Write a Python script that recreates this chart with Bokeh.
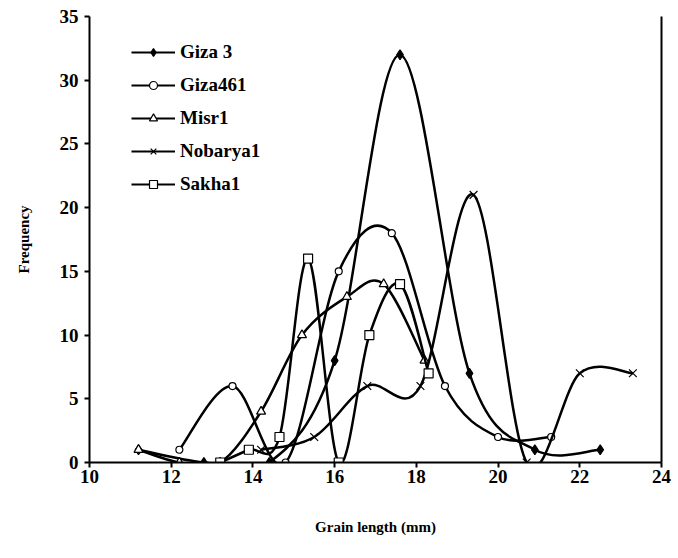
from bokeh.plotting import figure
from bokeh.models import Range1d, FixedTicker, Legend, LegendItem, LinearAxis, ColumnDataSource
from bokeh.embed import file_html
from bokeh.resources import INLINE

# ---- data ----
giza3_x = [11.2, 12.8, 14.4, 16.0, 17.6, 19.3, 20.9, 22.5]
giza3_y = [1, 0, 0, 8, 32, 7, 1, 1]
giza461_x = [12.2, 13.5, 14.8, 16.1, 17.4, 18.7, 20.0, 21.3]
giza461_y = [1, 6, 0, 15, 18, 6, 2, 2]
misr1_x = [11.2, 12.2, 13.2, 14.2, 15.2, 16.3, 17.2, 18.2]
misr1_y = [1, 0, 0, 4, 10, 13, 14, 8]
nobarya1_x = [14.2, 15.5, 16.8, 18.1, 19.4, 20.7, 22.0, 23.3]
nobarya1_y = [1, 2, 6, 6, 21, 0, 7, 7]
sakha1_x = [13.2, 13.9, 14.65, 15.35, 16.1, 16.85, 17.6, 18.3]
sakha1_y = [0, 1, 2, 16, 0, 10, 14, 7]

x_ticks = [10, 12, 14, 16, 18, 20, 22, 24]
y_ticks = [0, 5, 10, 15, 20, 25, 30, 35]

FONT = "Liberation Serif"
NAN = float("nan")

p = figure(width=672, height=542, output_backend="svg", toolbar_location=None,
           x_range=Range1d(10, 24), y_range=Range1d(0, 35),
           min_border_left=89, min_border_top=16, min_border_right=11, min_border_bottom=80)
p.outline_line_color = None
p.xgrid.visible = False
p.ygrid.visible = False
p.background_fill_color = "white"


def style_axis(ax):
    ax.axis_line_width = 2
    ax.axis_line_color = "black"
    ax.major_tick_line_width = 2
    ax.major_tick_line_color = "black"
    ax.major_tick_in = 0
    ax.major_tick_out = 5
    ax.minor_tick_line_color = None
    ax.major_label_text_font = FONT
    ax.major_label_text_font_style = "bold"
    ax.major_label_text_font_size = "19px"
    ax.major_label_text_color = "black"
    ax.axis_label_text_font = FONT
    ax.axis_label_text_font_style = "bold"
    ax.axis_label_text_font_size = "15px"
    ax.axis_label_text_color = "black"


style_axis(p.xaxis[0])
style_axis(p.yaxis[0])
p.xaxis[0].ticker = FixedTicker(ticks=x_ticks)
p.yaxis[0].ticker = FixedTicker(ticks=y_ticks)
p.xaxis[0].axis_label = "Grain length (mm)"
p.yaxis[0].axis_label = "Frequency"
p.xaxis[0].major_label_standoff = 2
p.yaxis[0].major_label_standoff = 6
p.xaxis[0].axis_label_standoff = 33
p.yaxis[0].axis_label_standoff = 25

right = LinearAxis(ticker=FixedTicker(ticks=[]), axis_line_width=2, axis_line_color="black",
                   major_tick_line_color=None, minor_tick_line_color=None,
                   major_label_text_font_size="0px")
p.add_layout(right, "right")


def bezier_source(xs, ys):
    n = len(xs)
    d = dict(x0=[], y0=[], x1=[], y1=[], cx0=[], cy0=[], cx1=[], cy1=[])
    for i in range(n - 1):
        im = max(i - 1, 0)
        i2 = min(i + 2, n - 1)
        d["x0"].append(xs[i]); d["y0"].append(ys[i])
        d["x1"].append(xs[i + 1]); d["y1"].append(ys[i + 1])
        d["cx0"].append(xs[i] + (xs[i + 1] - xs[im]) / 6.0)
        d["cy0"].append(ys[i] + (ys[i + 1] - ys[im]) / 6.0)
        d["cx1"].append(xs[i + 1] - (xs[i2] - xs[i]) / 6.0)
        d["cy1"].append(ys[i + 1] - (ys[i2] - ys[i]) / 6.0)
    return ColumnDataSource(d)


series = [
    ("Giza 3", giza3_x, giza3_y, "diamond", 10, "black"),
    ("Giza461", giza461_x, giza461_y, "circle", 7, "white"),
    ("Misr1", misr1_x, misr1_y, "triangle", 9, "white"),
    ("Nobarya1", nobarya1_x, nobarya1_y, "x", 11, "white"),
    ("Sakha1", sakha1_x, sakha1_y, "square", 9, "white"),
]

items = []
for name, xs, ys, marker, size, fill in series:
    src = bezier_source(xs, ys)
    p.bezier(x0="x0", y0="y0", x1="x1", y1="y1", cx0="cx0", cy0="cy0", cx1="cx1", cy1="cy1",
             source=src, line_color="black", line_width=2.5)
    sc = p.scatter(xs, ys, marker=marker, size=size, fill_color=fill, line_color="black",
                   line_width=1.2)
    lg = p.line([NAN, NAN], [NAN, NAN], line_color="black", line_width=2)
    items.append(LegendItem(label=name, renderers=[lg, sc]))

legend = Legend(items=items, location=(42, 267), orientation="vertical",
                glyph_width=44, glyph_height=20, label_height=20, spacing=11,
                label_standoff=5, padding=0, margin=0,
                border_line_color=None, background_fill_alpha=0,
                label_text_font=FONT, label_text_font_style="bold",
                label_text_font_size="19px", label_text_color="black")
p.add_layout(legend, "center")

open("out.html", "w").write(file_html(p, INLINE))
